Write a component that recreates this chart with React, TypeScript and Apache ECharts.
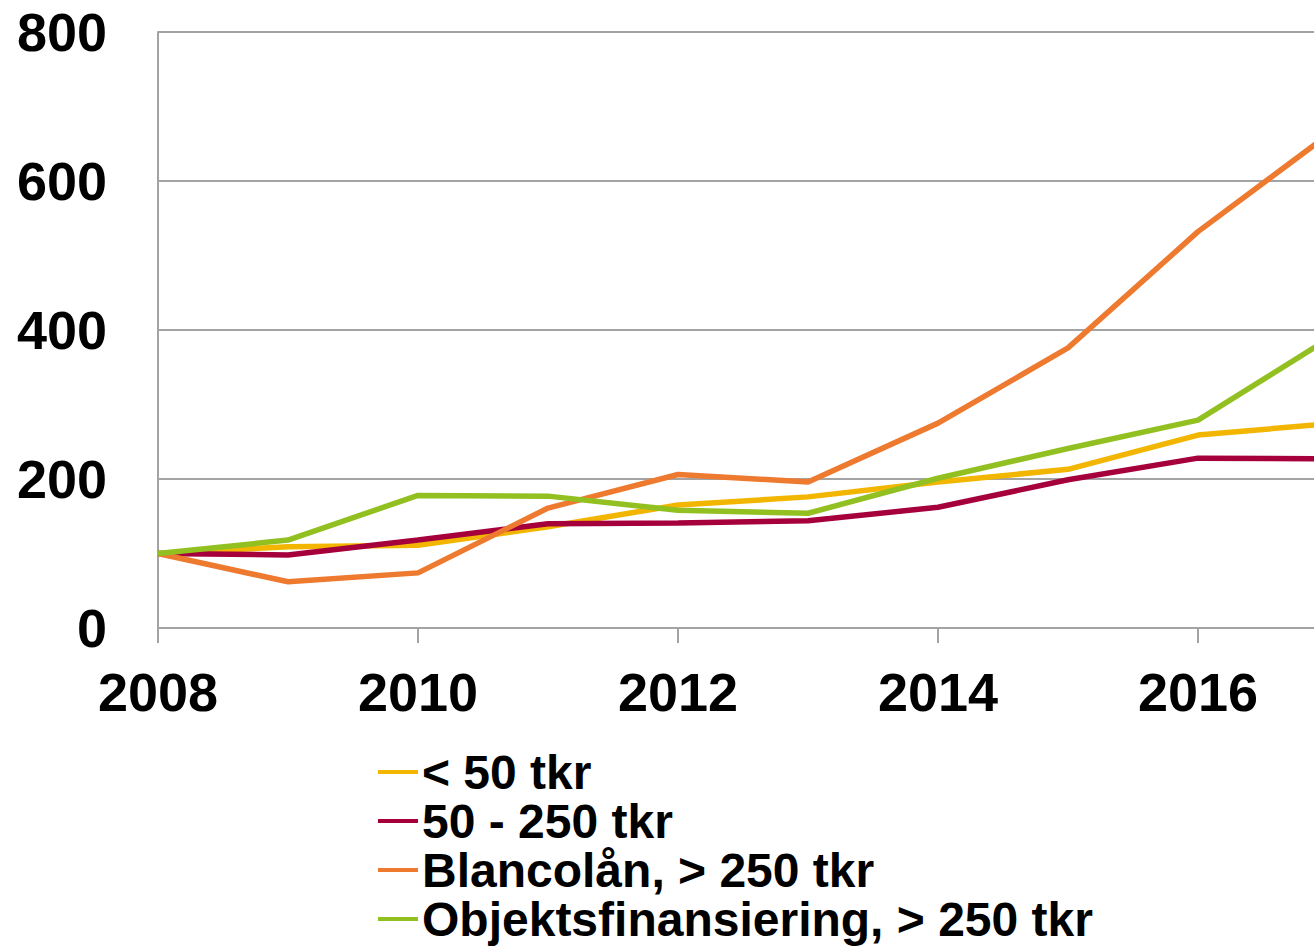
import React, { useEffect, useRef } from "react";
import * as echarts from "echarts";

const years = [2008, 2009, 2010, 2011, 2012, 2013, 2014, 2015, 2016, 2017];
const yearTicks = [2008, 2010, 2012, 2014, 2016];
const yTicks = [0, 200, 400, 600, 800];

const seriesNames = [
  "< 50 tkr",
  "50 - 250 tkr",
  "Blancolån, > 250 tkr",
  "Objektsfinansiering, > 250 tkr",
];
const under50 = [100, 109, 111, 136, 165, 176, 196, 213, 259, 274];
const mid50to250 = [100, 98, 118, 140, 141, 144, 162, 199, 228, 227];
const blanco250 = [100, 62, 74, 161, 206, 196, 275, 376, 532, 662];
const objekt250 = [100, 118, 178, 177, 158, 154, 201, 241, 279, 388];
const seriesValues = [under50, mid50to250, blanco250, objekt250];
const colors = ["#F2B600", "#A6003C", "#EE7A30", "#92C020"];

const FONT = "'Liberation Sans', Arial, sans-serif";

export default function App() {
  const ref = useRef<HTMLDivElement>(null);
  useEffect(() => {
    if (!ref.current) return;
    const chart = echarts.init(ref.current, null, { renderer: "svg" });
    const gray = "#A3A3A3";
    chart.setOption({
      animation: false,
      backgroundColor: "#ffffff",
      color: colors,
      grid: { left: 158, right: 0, top: 32, bottom: 321, containLabel: false },
      legend: {
        orient: "vertical",
        left: 378,
        top: 748,
        padding: 0,
        height: 200,
        icon: "rect",
        itemWidth: 40,
        itemHeight: 4,
        itemGap: 1,
        selectedMode: false,
        textStyle: {
          fontFamily: FONT,
          fontWeight: "bold",
          fontSize: 48,
          lineHeight: 48,
          color: "#000",
          padding: [0, 0, 0, -1],
        },
        data: seriesNames,
      },
      xAxis: {
        type: "value",
        min: 2008,
        max: 2008 + 1156 / 130,
        interval: 2,
        axisLine: { show: true, lineStyle: { color: gray, width: 2 } },
        axisTick: {
          show: true,
          length: 15,
          lineStyle: { color: gray, width: 2 },
          customValues: yearTicks,
        },
        axisLabel: {
          customValues: yearTicks,
          formatter: (v: number) => String(v),
          margin: 37,
          fontFamily: FONT,
          fontWeight: "bold",
          fontSize: 54,
          color: "#000",
        },
        splitLine: { show: false },
      },
      yAxis: {
        type: "value",
        min: 0,
        max: 800,
        interval: 200,
        axisLine: { show: true, lineStyle: { color: gray, width: 2 } },
        axisTick: { show: false },
        axisLabel: {
          customValues: yTicks,
          margin: 51,
          fontFamily: FONT,
          fontWeight: "bold",
          fontSize: 54,
          color: "#000",
        },
        splitLine: { show: true, lineStyle: { color: gray, width: 2 } },
      },
      series: seriesNames.map((name, i) => ({
        name,
        type: "line",
        symbol: "none",
        clip: true,
        data: years.map((y, j) => [y, seriesValues[i][j]]),
        lineStyle: { color: colors[i], width: 5.5 },
        itemStyle: { color: colors[i] },
      })),
    });
    return () => chart.dispose();
  }, []);
  return (
    <div
      ref={ref}
      style={{ position: "fixed", left: 0, top: 0, width: 1314, height: 949 }}
    />
  );
}
